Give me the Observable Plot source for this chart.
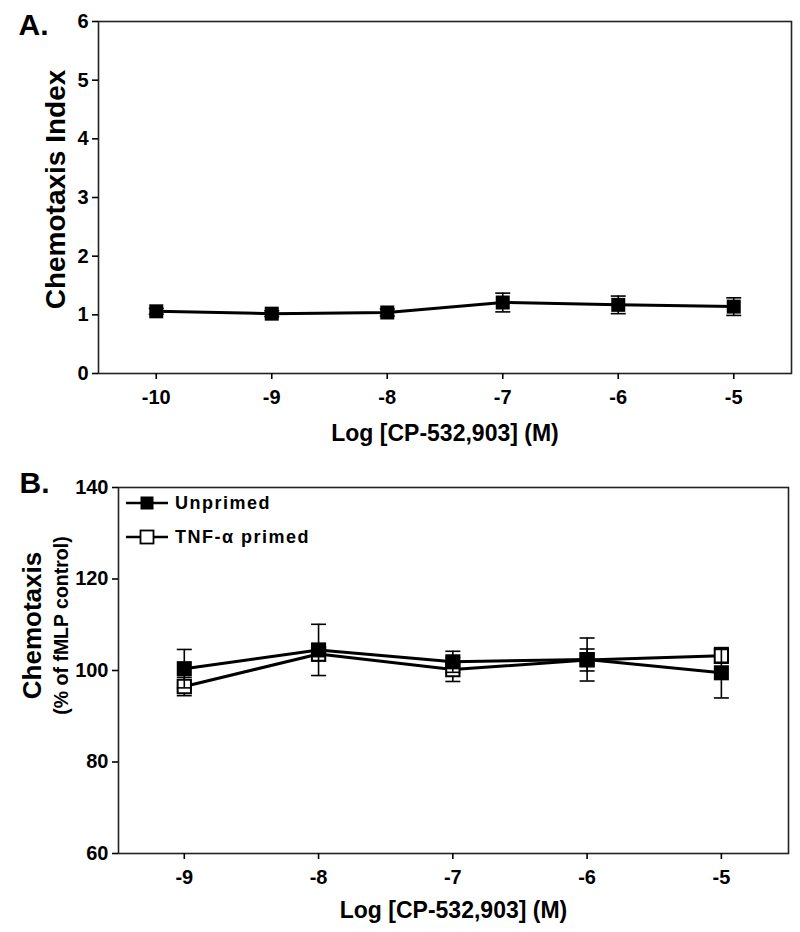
<!DOCTYPE html>
<html><head><meta charset="utf-8">
<script src="https://cdn.jsdelivr.net/npm/d3@7"></script>
<script src="https://cdn.jsdelivr.net/npm/@observablehq/plot@0.6"></script>
<style>
body{margin:0;background:#fff;}
#wrap{position:relative;width:800px;height:932px;overflow:hidden;font-family:"Liberation Sans",Arial,Helvetica,sans-serif;}
#wrap svg{position:absolute;left:0;overflow:visible;}
</style></head><body><div id="wrap"></div>
<script>
// ---- Panel A data ----
const doseA = [-10, -9, -8, -7, -6, -5];
const indexA = [1.06, 1.02, 1.04, 1.21, 1.17, 1.14];
const semA = [0.05, 0.05, 0.06, 0.16, 0.15, 0.15];
const yTicksA = [0, 1, 2, 3, 4, 5, 6];

// ---- Panel B data ----
const doseB = [-9, -8, -7, -6, -5];
const unprimed = [100.4, 104.5, 101.9, 102.4, 99.5];
const unprimedErr = [4.2, 5.6, 2.3, 4.7, 5.5];
const primed = [96.5, 103.6, 100.2, 102.3, 103.2];
const primedErr = [2.0, 1.5, 2.6, 2.4, 1.6];
const yTicksB = [60, 80, 100, 120, 140];
const seriesNames = ["Unprimed", "TNF-\u03b1 primed"];

const xLabel = "Log [CP-532,903] (M)";
const FONT = "'Liberation Sans', Arial, Helvetica, sans-serif";

const capSymbol = {draw(ctx, size) { const w = Math.sqrt(size / Math.PI); ctx.moveTo(-w, 0); ctx.lineTo(w, 0); }};

const rowsA = doseA.map((x, i) => ({x, y: indexA[i], e: semA[i]}));
const rowsU = doseB.map((x, i) => ({x, y: unprimed[i], e: unprimedErr[i]}));
const rowsP = doseB.map((x, i) => ({x, y: primed[i], e: primedErr[i]}));

function errMarks(rows) {
  return [
    Plot.ruleX(rows, {x: "x", y1: d => d.y - d.e, y2: d => d.y + d.e, stroke: "black", strokeWidth: 1.6}),
    Plot.dot(rows, {x: "x", y: d => d.y + d.e, symbol: capSymbol, r: 7.5, stroke: "black", fill: "none", strokeWidth: 1.6}),
    Plot.dot(rows, {x: "x", y: d => d.y - d.e, symbol: capSymbol, r: 7.5, stroke: "black", fill: "none", strokeWidth: 1.6})
  ];
}

// axes: tick lines from Plot's axis marks, tick labels as bold text marks on the same scales
function axes(xTicks, yTicks) {
  return [
    Plot.axisX({ticks: xTicks, tickFormat: () => "", tickSize: 6, strokeWidth: 1.6, label: null}),
    Plot.axisY({ticks: yTicks, tickFormat: () => "", tickSize: 6, strokeWidth: 1.6, label: null}),
    Plot.text(xTicks, {x: d => d, text: d => String(d), frameAnchor: "bottom", lineAnchor: "middle", dy: 24, fontSize: 20, fontWeight: "bold", fill: "black"}),
    Plot.text(yTicks, {y: d => d, text: d => String(d), frameAnchor: "left", textAnchor: "end", lineAnchor: "middle", dx: -10, fontSize: 20, fontWeight: "bold", fill: "black"})
  ];
}

const wrap = document.getElementById("wrap");
const baseStyle = {fontFamily: FONT, fontWeight: "bold", fontSize: "20px", color: "black", background: "transparent"};

// ---------- Panel A ----------
const plotA = Plot.plot({
  width: 800, height: 450,
  marginTop: 21, marginBottom: 77, marginLeft: 98, marginRight: 9,
  style: baseStyle,
  x: {domain: [-10.5, -4.5]},
  y: {domain: [0, 6]},
  marks: [
    Plot.frame({stroke: "#222", strokeWidth: 1.6}),
    ...axes(doseA, yTicksA),
    Plot.text([xLabel], {frameAnchor: "bottom", lineAnchor: "middle", dy: 60, fontSize: 23, fontWeight: "bold"}),
    Plot.text(["Chemotaxis Index"], {frameAnchor: "left", textAnchor: "middle", lineAnchor: "middle", rotate: -90, dx: -42, dy: -8, fontSize: 28, fontWeight: "bold"}),
    Plot.text(["A."], {frameAnchor: "top-left", textAnchor: "middle", lineAnchor: "middle", dx: -65, dy: 4, fontSize: 30, fontWeight: "bold"}),
    Plot.line(rowsA, {x: "x", y: "y", stroke: "black", strokeWidth: 3}),
    ...errMarks(rowsA),
    Plot.dot(rowsA, {x: "x", y: "y", symbol: "square", r: 7.9, fill: "black", stroke: "none"})
  ]
});
plotA.style.top = "0px";
wrap.appendChild(plotA);

// ---------- Panel B ----------
const plotB = Plot.plot({
  width: 800, height: 482,
  marginTop: 37, marginBottom: 79, marginLeft: 118, marginRight: 12,
  style: baseStyle,
  x: {domain: [-9.49, -4.5]},
  y: {domain: [60, 140]},
  marks: [
    Plot.frame({stroke: "#222", strokeWidth: 1.6}),
    ...axes(doseB, yTicksB),
    Plot.text([xLabel], {frameAnchor: "bottom", lineAnchor: "middle", dy: 57, fontSize: 23, fontWeight: "bold"}),
    Plot.text(["Chemotaxis"], {frameAnchor: "left", textAnchor: "middle", lineAnchor: "middle", rotate: -90, dx: -86, dy: -45, fontSize: 26, fontWeight: "bold"}),
    Plot.text(["(% of fMLP control)"], {frameAnchor: "left", textAnchor: "middle", lineAnchor: "middle", rotate: -90, dx: -57, dy: -45, fontSize: 19.5, fontWeight: "bold"}),
    Plot.text(["B."], {frameAnchor: "top-left", textAnchor: "middle", lineAnchor: "middle", dx: -84, dy: -4, fontSize: 30, fontWeight: "bold"}),
    // TNF-alpha primed (drawn first, underneath)
    Plot.line(rowsP, {x: "x", y: "y", stroke: "black", strokeWidth: 3}),
    ...errMarks(rowsP),
    Plot.dot(rowsP, {x: "x", y: "y", symbol: "square", r: 7.5, fill: "white", stroke: "black", strokeWidth: 2}),
    // Unprimed
    Plot.line(rowsU, {x: "x", y: "y", stroke: "black", strokeWidth: 3}),
    ...errMarks(rowsU),
    Plot.dot(rowsU, {x: "x", y: "y", symbol: "square", r: 8.5, fill: "black", stroke: "none"})
  ]
});
plotB.style.top = "450px";
wrap.appendChild(plotB);

// ---------- Legend for panel B ----------
const leg = d3.create("svg").attr("width", 280).attr("height", 70)
  .style("left", "118px").style("top", "487px");
seriesNames.forEach((name, i) => {
  const g = leg.append("g").attr("transform", `translate(0,${16 + i * 34})`);
  g.append("line").attr("x1", 8).attr("x2", 50).attr("y1", 0).attr("y2", 0)
    .attr("stroke", "black").attr("stroke-width", 2.5);
  g.append("rect").attr("x", 29 - 6.5).attr("y", -6.5).attr("width", 13).attr("height", 13)
    .attr("fill", i === 0 ? "black" : "white").attr("stroke", "black").attr("stroke-width", i === 0 ? 0 : 1.8);
  g.append("text").attr("x", 57).attr("y", 0).attr("dy", "0.35em")
    .attr("font-family", FONT).attr("font-weight", "bold").attr("font-size", 18)
    .attr("letter-spacing", "1.5px").attr("fill", "black").text(name);
});
wrap.appendChild(leg.node());
</script></body></html>
